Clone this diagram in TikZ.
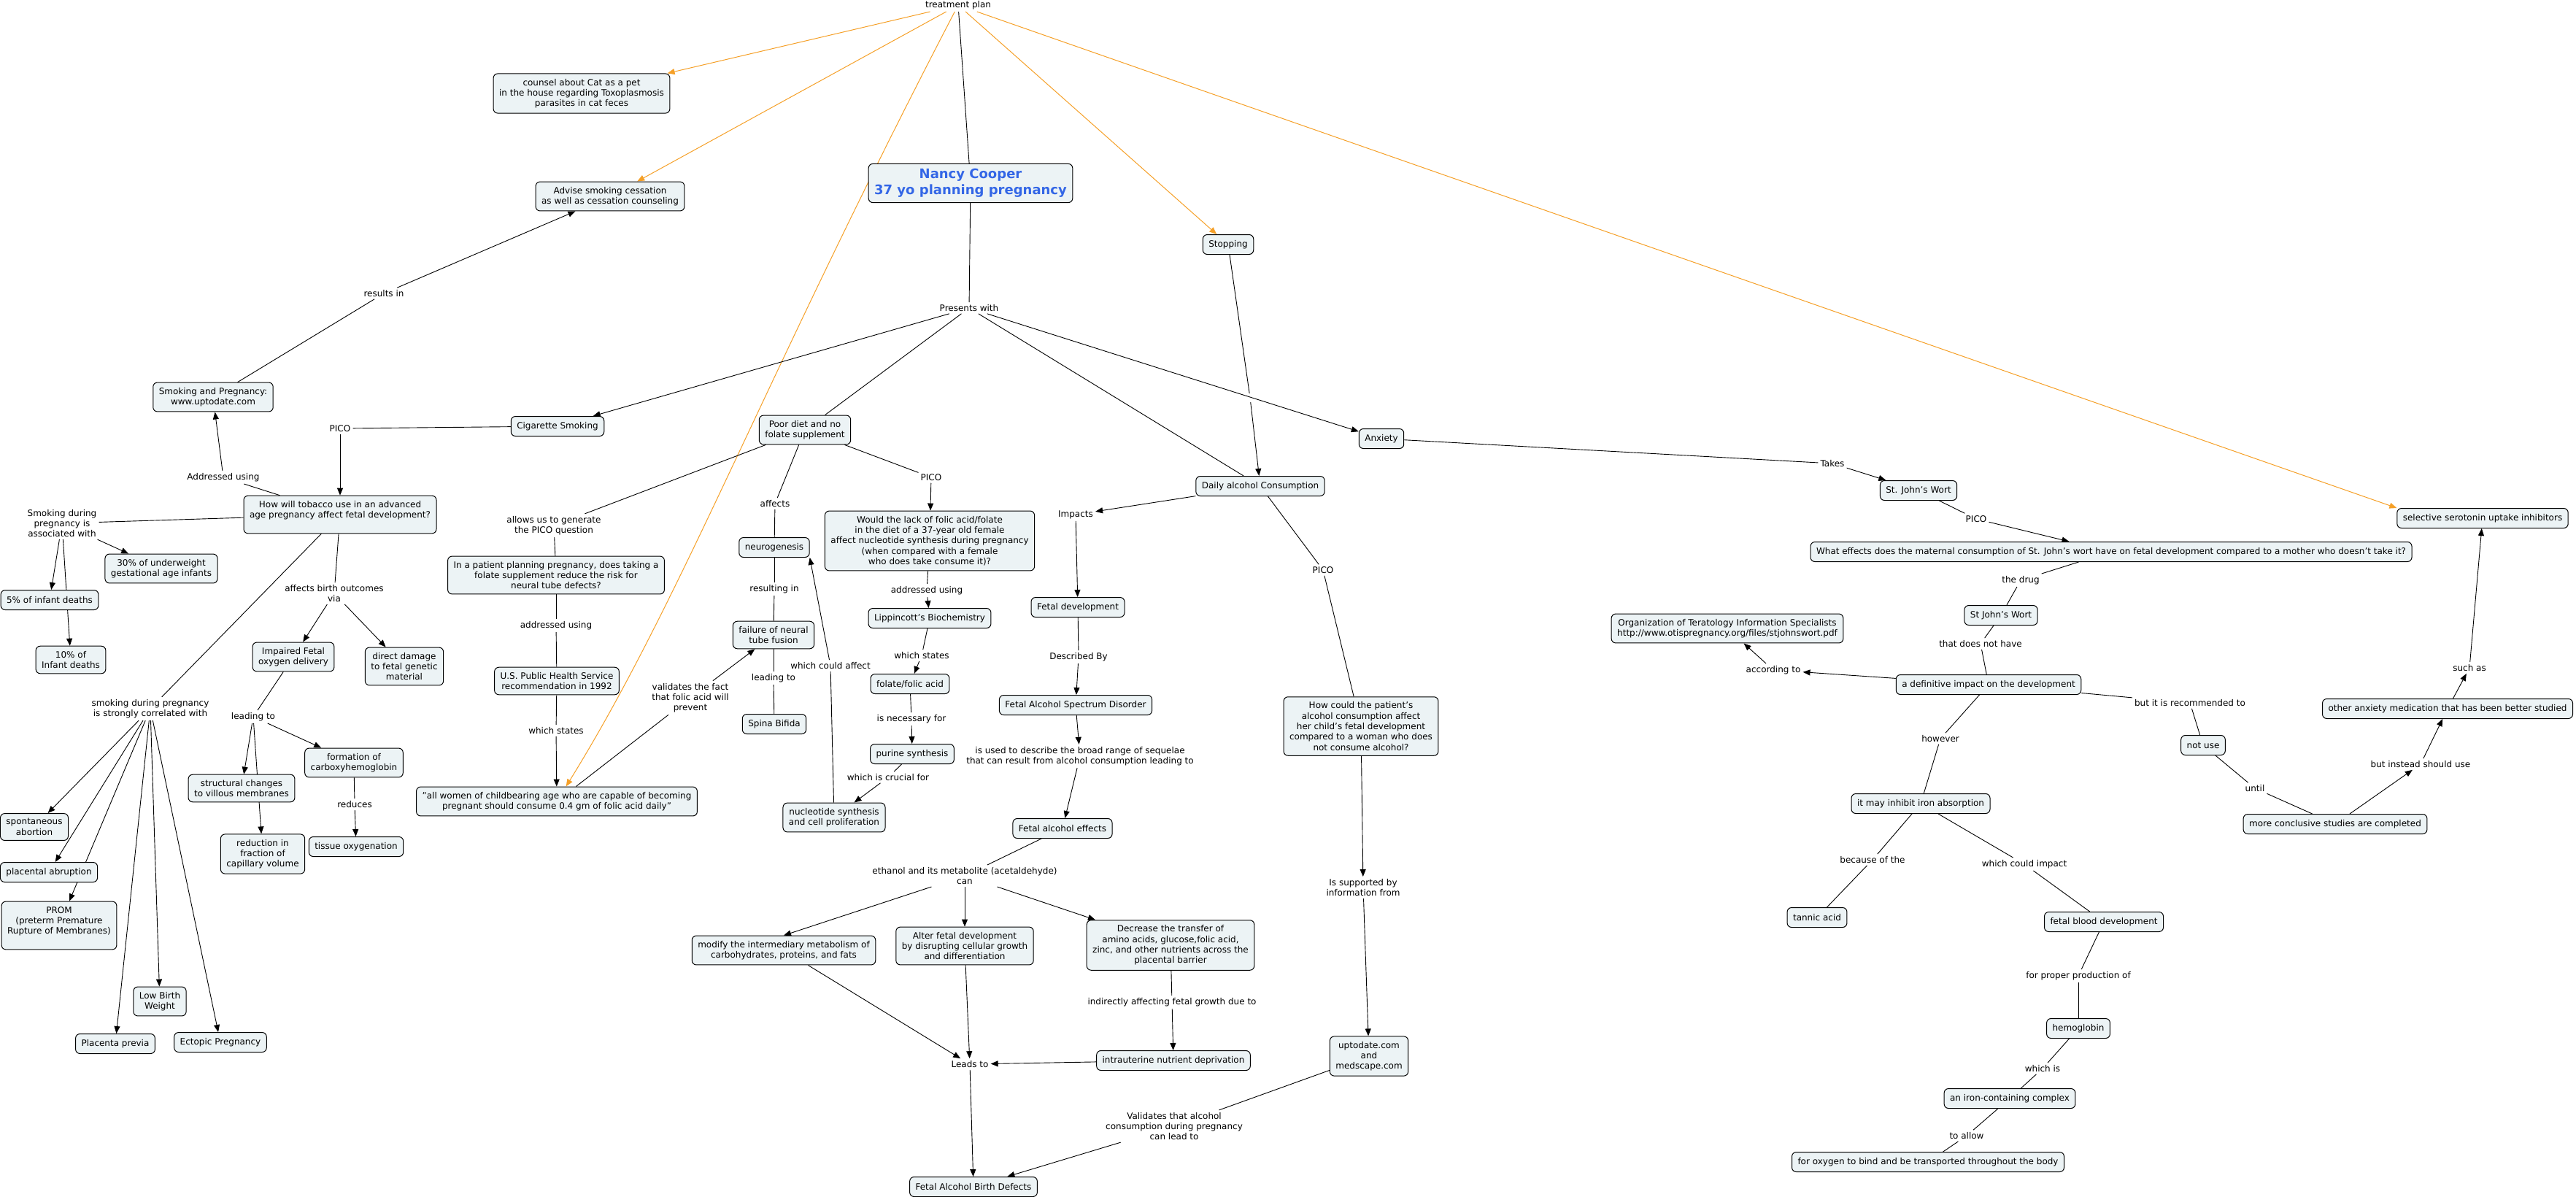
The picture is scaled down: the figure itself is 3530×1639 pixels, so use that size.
\documentclass[tikz,border=0pt]{standalone}
\usepackage{fontspec}
\setmainfont{DejaVu Sans}
\usetikzlibrary{arrows.meta, backgrounds}

\definecolor{conceptfill}{RGB}{236,243,245}
\definecolor{planorange}{RGB}{245,160,40}
\definecolor{nancyblue}{RGB}{51,102,230}

\begin{document}
\begin{tikzpicture}[x=1pt, y=-1pt, font=\fontsize{12}{14.3}\selectfont,
    concept/.style={draw, line width=1pt, rounded corners=6pt, fill=conceptfill,
        align=center, inner xsep=8pt, inner ysep=7pt, minimum height=27pt},
    link/.style={align=center, inner sep=3pt},
    conn/.style={line width=0.9pt},
    arr/.style={conn, -{Triangle[length=10pt, width=8pt]}},
    plan/.style={planorange, line width=1pt, -{Triangle[length=10pt, width=8pt]}}]

    \useasboundingbox (0,0) rectangle (3530,1639);

    % Mitte
    \node[link] (tp) at (1313,7) {treatment plan};
    \node[concept, font=\fontsize{18}{22}\selectfont\bfseries, text=nancyblue] (nancy) at (1330,251)
        {Nancy Cooper\\37 yo planning pregnancy};
    \node[link] (presents) at (1328,422) {Presents with};
    \node[concept] (counsel) at (797,128)
        {counsel about Cat as a pet\\in the house regarding Toxoplasmosis\\parasites in cat feces};
    \node[concept] (advise) at (836,269) {Advise smoking cessation\\as well as cessation counseling};
    \node[concept] (stopping) at (1683,335) {Stopping};
    \node[inner sep=6pt] (gap) at (1713,545) {};

    % Rauchen
    \node[concept] (smokpreg) at (292,544) {Smoking and Pregnancy:\\www.uptodate.com};
    \node[link] (resultsin) at (526,402) {results in};
    \node[concept] (cigsmoke) at (764,584) {Cigarette Smoking};
    \node[link] (pico1) at (466,587) {PICO};
    \node[link] (addrusing1) at (306,654) {Addressed using};
    \node[concept] (tobacco) at (466,705)
        {How will tobacco use in an advanced\\age pregnancy affect fetal development?\\\mbox{}};
    \node[link] (assocwith) at (85,717) {Smoking during\\pregnancy is\\associated with};
    \node[concept] (under30) at (221,779) {30\% of underweight\\gestational age infants};
    \node[concept] (deaths5) at (68,822) {5\% of infant deaths};
    \node[concept] (deaths10) at (97,904) {10\% of\\Infant deaths};
    \node[link] (birthout) at (458,813) {affects birth outcomes\\via};
    \node[concept] (impaired) at (402,900) {Impaired Fetal\\oxygen delivery};
    \node[concept] (damage) at (554,913) {direct damage\\to fetal genetic\\material};
    \node[link] (correlated) at (206,971) {smoking during pregnancy\\is strongly correlated with};
    \node[link] (leading1) at (347,982) {leading to};
    \node[concept] (carboxy) at (485,1045) {formation of\\carboxyhemoglobin};
    \node[concept] (villous) at (331,1080) {structural changes\\to villous membranes};
    \node[link] (reduces) at (486,1102) {reduces};
    \node[concept] (capillary) at (360,1170) {reduction in\\fraction of\\capillary volume};
    \node[concept] (tissue) at (488,1160) {tissue oxygenation};
    \node[concept] (abortion) at (47,1133) {spontaneous\\abortion};
    \node[concept] (abruption) at (67,1195) {placental abruption};
    \node[concept] (prom) at (81,1268) {PROM\\(preterm Premature\\Rupture of Membranes)\\\mbox{}};
    \node[concept] (lowbw) at (219,1372) {Low Birth\\Weight};
    \node[concept] (previa) at (158,1430) {Placenta previa};
    \node[concept] (ectopic) at (302,1428) {Ectopic Pregnancy};

    % Folat
    \node[concept] (poordiet) at (1103,589) {Poor diet and no\\folate supplement};
    \node[link] (generate) at (759,720) {allows us to generate\\the PICO question};
    \node[concept] (folateq) at (762,788)
        {In a patient planning pregnancy, does taking a\\folate supplement reduce the risk for\\neural tube defects?};
    \node[link] (addrusing2) at (762,857) {addressed using};
    \node[concept] (usphs) at (763,933) {U.S. Public Health Service\\recommendation in 1992};
    \node[link] (states1) at (762,1001) {which states};
    \node[concept] (quote) at (763,1098)
        {"all women of childbearing age who are capable of becoming\\pregnant should consume 0.4 gm of folic acid daily"};
    \node[link] (validates) at (946,956) {validates the fact\\that folic acid will\\prevent};
    \node[link] (affects) at (1062,690) {affects};
    \node[concept] (neuro) at (1061,750) {neurogenesis};
    \node[link] (resulting) at (1061,807) {resulting in};
    \node[concept] (ntfail) at (1060,870) {failure of neural\\tube fusion};
    \node[link] (leading2) at (1060,929) {leading to};
    \node[concept] (spina) at (1061,992) {Spina Bifida};
    \node[link] (couldaffect) at (1138,912) {which could affect};
    \node[link] (pico2) at (1276,654) {PICO};
    \node[concept] (folicq) at (1274,741)
        {Would the lack of folic acid/folate\\in the diet of a 37-year old female\\affect nucleotide synthesis during pregnancy\\(when compared with a female\\who does take consume it)?};
    \node[link] (addrusing3) at (1270,809) {addressed using};
    \node[concept] (lippincott) at (1274,847) {Lippincott's Biochemistry};
    \node[link] (states2) at (1263,898) {which states};
    \node[concept] (folate) at (1247,937) {folate/folic acid};
    \node[link] (necessary) at (1249,985) {is necessary for};
    \node[concept] (purine) at (1250,1033) {purine synthesis};
    \node[link] (crucial) at (1217,1065) {which is crucial for};
    \node[concept] (nucleo) at (1143,1120) {nucleotide synthesis\\and cell proliferation};

    % Alkohol
    \node[concept] (daily) at (1727,666) {Daily alcohol Consumption};
    \node[link] (impacts) at (1474,705) {Impacts};
    \node[concept] (fetaldev) at (1477,832) {Fetal development};
    \node[link] (described) at (1478,900) {Described By};
    \node[concept] (fasd) at (1474,966) {Fetal Alcohol Spectrum Disorder};
    \node[link] (usedto) at (1480,1036)
        {is used to describe the broad range of sequelae\\that can result from alcohol consumption leading to};
    \node[concept] (faeffects) at (1456,1135) {Fetal alcohol effects};
    \node[link] (ethanol) at (1322,1200) {ethanol and its metabolite (acetaldehyde)\\can};
    \node[concept] (modify) at (1074,1302)
        {modify the intermediary metabolism of\\carbohydrates, proteins, and fats};
    \node[concept] (alter) at (1322,1296)
        {Alter fetal development\\by disrupting cellular growth\\and differentiation};
    \node[concept] (decrease) at (1604,1295)
        {Decrease the transfer of\\amino acids, glucose,folic acid,\\zinc, and other nutrients across the\\placental barrier};
    \node[link] (indirectly) at (1606,1373) {indirectly affecting fetal growth due to};
    \node[concept] (deprivation) at (1608,1453) {intrauterine nutrient deprivation};
    \node[link] (leadsto) at (1329,1458) {Leads to};
    \node[concept] (fabd) at (1334,1626) {Fetal Alcohol Birth Defects};
    \node[link] (validates2) at (1609,1543) {Validates that alcohol\\consumption during pregnancy\\can lead to};
    \node[link] (pico3) at (1813,781) {PICO};
    \node[concept] (alcoholq) at (1865,995)
        {How could the patient's\\alcohol consumption affect\\her child's fetal development\\compared to a woman who does\\not consume alcohol?};
    \node[link] (supported) at (1868,1216) {Is supported by\\information from};
    \node[concept] (uptodate) at (1876,1447) {uptodate.com\\and\\medscape.com};

    % Angst
    \node[concept] (anxiety) at (1893,601) {Anxiety};
    \node[link] (takes) at (2511,635) {Takes};
    \node[concept] (sjw) at (2629,672) {St. John's Wort};
    \node[link] (pico4) at (2708,711) {PICO};
    \node[concept] (sjwq) at (2893,756)
        {What effects does the maternal consumption of St. John's wort have on fetal development compared to a mother who doesn't take it?};
    \node[link] (thedrug) at (2769,795) {the drug};
    \node[concept] (sjw2) at (2742,843) {St John's Wort};
    \node[link] (nothave) at (2714,882) {that does not have};
    \node[concept] (definitive) at (2725,938) {a definitive impact on the development};
    \node[link] (according) at (2430,918) {according to};
    \node[concept] (otis) at (2367,861)
        {Organization of Teratology Information Specialists\\http://www.otispregnancy.org/files/stjohnswort.pdf};
    \node[link] (however) at (2659,1012) {however};
    \node[concept] (inhibit) at (2632,1101) {it may inhibit iron absorption};
    \node[link] (becauseof) at (2566,1178) {because of the};
    \node[concept] (tannic) at (2490,1257) {tannic acid};
    \node[link] (couldimpact) at (2774,1184) {which could impact};
    \node[concept] (blooddev) at (2883,1263) {fetal blood development};
    \node[link] (production) at (2848,1337) {for proper production of};
    \node[concept] (hemo) at (2848,1409) {hemoglobin};
    \node[link] (whichis) at (2799,1464) {which is};
    \node[concept] (ironcomplex) at (2754,1505) {an iron-containing complex};
    \node[link] (toallow) at (2695,1556) {to allow};
    \node[concept] (oxygen) at (2642,1592) {for oxygen to bind and be transported throughout the body};
    \node[link] (recommended) at (3001,963) {but it is recommended to};
    \node[concept] (notuse) at (3019,1021) {not use};
    \node[link] (until) at (3090,1080) {until};
    \node[concept] (conclusive) at (3200,1129) {more conclusive studies are completed};
    \node[link] (instead) at (3317,1047) {but instead should use};
    \node[concept] (otheranx) at (3354,971) {other anxiety medication that has been better studied};
    \node[link] (suchas) at (3384,915) {such as};
    \node[concept] (ssri) at (3402,710) {selective serotonin uptake inhibitors};

    \begin{scope}[on background layer]
        % Behandlungsplan
        \draw[plan] (tp) -- (counsel);
        \draw[plan] (tp) -- (advise);
        \draw[plan] (tp) .. controls (1047,518) and (934,822) .. (quote);
        \draw[plan] (tp) -- (stopping);
        \draw[plan] (tp) -- (ssri.north west);
        \draw[conn] (tp) -- (nancy);
        \draw[conn] (nancy) -- (presents);
        \draw[arr] (presents) -- (cigsmoke);
        \draw[conn] (presents) -- (poordiet);
        \draw[conn] (presents) -- (daily);
        \draw[arr] (presents) -- (anxiety);
        \draw[conn] (stopping) -- (gap);
        \draw[arr] (gap) -- (daily);

        % Rauchen
        \draw[conn] (smokpreg) -- (resultsin);
        \draw[arr] (resultsin) -- (advise);
        \draw[conn] (cigsmoke) -- (pico1);
        \draw[arr] (pico1) -- (tobacco);
        \draw[conn] (tobacco) -- (addrusing1);
        \draw[arr] (addrusing1) -- (smokpreg);
        \draw[conn] (tobacco) -- (assocwith);
        \draw[arr] (assocwith) -- (under30);
        \draw[arr] (assocwith) -- (deaths5);
        \draw[arr] (assocwith) -- (deaths10);
        \draw[conn] (tobacco) -- (birthout);
        \draw[arr] (birthout) -- (impaired);
        \draw[arr] (birthout) -- (damage);
        \draw[conn] (tobacco) -- (correlated);
        \foreach \t in {abortion, abruption, prom, previa, lowbw, ectopic}
            \draw[arr] (correlated) -- (\t);
        \draw[conn] (impaired) -- (leading1);
        \draw[arr] (leading1) -- (villous);
        \draw[arr] (leading1) -- (capillary);
        \draw[arr] (leading1) -- (carboxy);
        \draw[conn] (carboxy) -- (reduces);
        \draw[arr] (reduces) -- (tissue);

        % Folat
        \draw[conn] (poordiet) -- (generate);
        \draw[conn] (generate) -- (folateq);
        \draw[conn] (folateq) -- (addrusing2);
        \draw[conn] (addrusing2) -- (usphs);
        \draw[conn] (usphs) -- (states1);
        \draw[arr] (states1) -- (quote);
        \draw[conn] (quote) -- (validates);
        \draw[arr] (validates) -- (ntfail);
        \draw[conn] (poordiet) -- (affects);
        \draw[conn] (affects) -- (neuro);
        \draw[conn] (neuro) -- (resulting);
        \draw[conn] (resulting) -- (ntfail);
        \draw[conn] (ntfail) -- (leading2);
        \draw[conn] (leading2) -- (spina);
        \draw[conn] (nucleo) -- (couldaffect);
        \draw[arr] (couldaffect) -- (neuro.south east);
        \draw[conn] (poordiet) -- (pico2);
        \draw[arr] (pico2) -- (folicq);
        \draw[conn] (folicq) -- (addrusing3);
        \draw[arr] (addrusing3) -- (lippincott);
        \draw[conn] (lippincott) -- (states2);
        \draw[arr] (states2) -- (folate);
        \draw[conn] (folate) -- (necessary);
        \draw[arr] (necessary) -- (purine);
        \draw[conn] (purine) -- (crucial);
        \draw[arr] (crucial) -- (nucleo);

        % Alkohol
        \draw[arr] (daily) -- (impacts);
        \draw[arr] (impacts) -- (fetaldev);
        \draw[conn] (fetaldev) -- (described);
        \draw[arr] (described) -- (fasd);
        \draw[arr] (fasd) -- (usedto);
        \draw[arr] (usedto) -- (faeffects);
        \draw[conn] (faeffects) -- (ethanol);
        \draw[arr] (ethanol) -- (modify.north);
        \draw[arr] (ethanol) -- (alter);
        \draw[arr] (ethanol) -- (decrease);
        \draw[arr] (modify) -- (leadsto);
        \draw[arr] (alter) -- (leadsto);
        \draw[conn] (decrease) -- (indirectly);
        \draw[arr] (indirectly) -- (deprivation);
        \draw[arr] (deprivation) -- (leadsto);
        \draw[arr] (leadsto) -- (fabd);
        \draw[conn] (daily) -- (pico3);
        \draw[conn] (pico3) -- (alcoholq);
        \draw[arr] (alcoholq) -- (supported);
        \draw[arr] (supported) -- (uptodate);
        \draw[conn] (uptodate) -- (validates2);
        \draw[arr] (validates2) -- (fabd);

        % Angst
        \draw[conn] (anxiety) -- (takes);
        \draw[arr] (takes) -- (sjw);
        \draw[conn] (sjw) -- (pico4);
        \draw[arr] (pico4) -- (sjwq);
        \draw[conn] (sjwq) -- (thedrug);
        \draw[conn] (thedrug) -- (sjw2);
        \draw[conn] (sjw2) -- (nothave);
        \draw[conn] (nothave) -- (definitive);
        \draw[arr] (definitive) -- (according);
        \draw[arr] (according) -- (otis);
        \draw[conn] (definitive) -- (however);
        \draw[conn] (however) -- (inhibit);
        \draw[conn] (inhibit) -- (becauseof);
        \draw[conn] (becauseof) -- (tannic);
        \draw[conn] (inhibit) -- (couldimpact);
        \draw[conn] (couldimpact) -- (blooddev);
        \draw[conn] (blooddev) -- (production);
        \draw[conn] (production) -- (hemo);
        \draw[conn] (hemo) -- (whichis);
        \draw[conn] (whichis) -- (ironcomplex);
        \draw[conn] (ironcomplex) -- (toallow);
        \draw[conn] (toallow) -- (oxygen);
        \draw[conn] (definitive) -- (recommended);
        \draw[conn] (recommended) -- (notuse);
        \draw[conn] (notuse) -- (until);
        \draw[conn] (until) -- (conclusive);
        \draw[arr] (conclusive) -- (instead);
        \draw[arr] (instead) -- (otheranx);
        \draw[arr] (otheranx) -- (suchas);
        \draw[arr] (suchas) -- (ssri);
    \end{scope}

\end{tikzpicture}
\end{document}
